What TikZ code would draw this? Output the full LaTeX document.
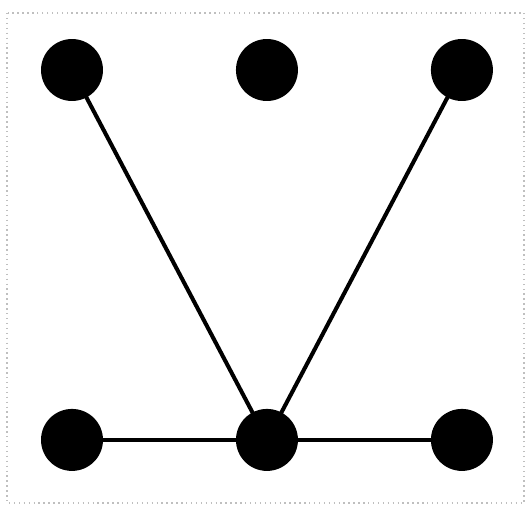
\documentclass[tikz,border=0pt]{standalone}
\usetikzlibrary{positioning}

\begin{document}
\begin{tikzpicture}[
      x=0.02cm, y=-0.02cm,
      node distance=7.4cm and 3.9cm, on grid,
      dot/.style={circle, fill=black, minimum size=1.24cm, inner sep=0pt},
      link/.style={line width=2.3pt}
    ]
    \useasboundingbox (0,0) rectangle (529,507);
    \draw[gray!50, dotted, line width=0.8pt] (7,13) rectangle (524,503);
    \node[dot] (tl) at (72,70) {};
    \node[dot, right=of tl] (tm) {};
    \node[dot, right=of tm] (tr) {};
    \node[dot, below=of tl] (bl) {};
    \node[dot, right=of bl] (bm) {};
    \node[dot, right=of bm] (br) {};
    \draw[link] (tl.center) -- (bm.center);
    \draw[link] (tr.center) -- (bm.center);
    \draw[link] (bl) -- (bm) -- (br);
  \end{tikzpicture}
\end{document}
